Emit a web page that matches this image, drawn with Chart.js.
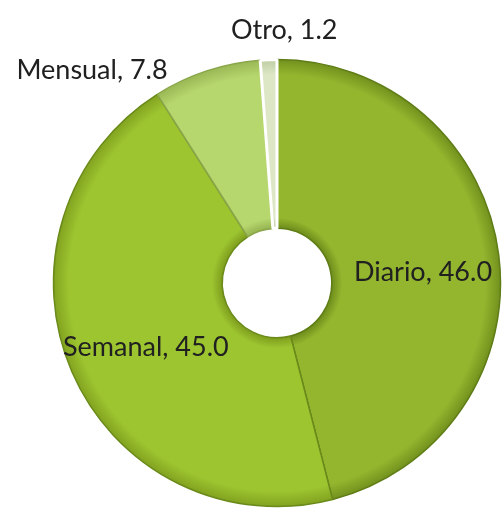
<!DOCTYPE html>
<html>
<head>
<meta charset="utf-8">
<script src="https://cdn.jsdelivr.net/npm/chart.js@4"></script>
<style>
  html, body { margin: 0; padding: 0; background: #ffffff; }
  #wrap { width: 502px; height: 514px; position: relative; }
</style>
</head>
<body>
<div id="wrap"><canvas id="grafico"></canvas></div>
<script>
// datos del grafico
const categorias = ["Diario", "Semanal", "Mensual", "Otro"];
const valores = [46.0, 45.0, 7.8, 1.2];
const coloresClaros = ["#94b62e", "#9dc530", "#b6d66e", "#dde7c6"];
const coloresOscuros = ["#6f8d1c", "#7f9f1e", "#97b552", "#bccaa0"];

// donde va cada etiqueta: factor del radio y angulo extra (grados)
const posEtiquetas = [
  { r: 0.655, ang: 2.9 },
  { r: 0.654, ang: -2.8 },
  { r: 1.26, ang: -22.7 },
  { r: 1.133, ang: 3.8 }
];

const canvas = document.getElementById("grafico");

// gradiente radial para dar algo de relieve (centro sacado del area del grafico)
const relleno = (ctx) => {
  const i = ctx.dataIndex;
  const area = ctx.chart.chartArea;
  if (!area) return coloresClaros[i];
  const cx = (area.left + area.right) / 2;
  const cy = (area.top + area.bottom) / 2;
  const rExt = Math.min(area.right - area.left, area.bottom - area.top) / 2;
  const rInt = rExt * 0.245;
  const g = ctx.chart.ctx.createRadialGradient(cx, cy, rInt, cx, cy, rExt);
  g.addColorStop(0, coloresOscuros[i]);
  g.addColorStop(0.06, coloresClaros[i]);
  g.addColorStop(0.9, coloresClaros[i]);
  g.addColorStop(1, coloresOscuros[i]);
  return g;
};

const etiquetas = {
  id: "etiquetas",
  afterDatasetsDraw(chart) {
    const ctx = chart.ctx;
    const meta = chart.getDatasetMeta(0);
    ctx.save();
    ctx.font = '27px Lato, sans-serif';
    ctx.fillStyle = "#202020";
    ctx.textAlign = "center";
    ctx.textBaseline = "middle";
    meta.data.forEach((arc, i) => {
      const p = posEtiquetas[i];
      const medio = (arc.startAngle + arc.endAngle) / 2 + p.ang * Math.PI / 180;
      const r = arc.outerRadius * p.r;
      const x = arc.x + Math.cos(medio) * r;
      const y = arc.y + Math.sin(medio) * r;
      ctx.fillText(categorias[i] + ", " + valores[i].toFixed(1), x, y);
    });
    ctx.restore();
  }
};

new Chart(canvas, {
  type: "doughnut",
  data: {
    labels: categorias,
    datasets: [{
      data: valores,
      backgroundColor: relleno,
      borderColor: ["#5f7d16", "#6a8a1a", "#8aa64a", "#ffffff"],
      borderWidth: [1.5, 1.5, 1.5, 3]
    }]
  },
  options: {
    responsive: true,
    maintainAspectRatio: false,
    animation: false,
    cutout: "24.5%",
    layout: { padding: { left: 52, right: 0, top: 58, bottom: 6 } },
    plugins: {
      legend: { display: false },
      tooltip: { enabled: false }
    }
  },
  plugins: [etiquetas]
});
</script>
</body>
</html>
